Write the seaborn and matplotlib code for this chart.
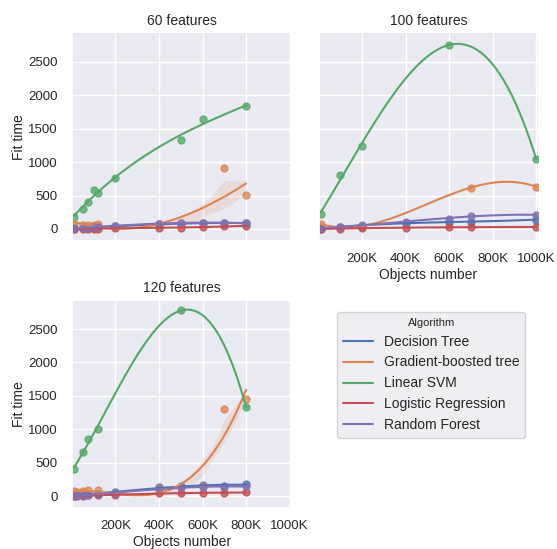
import numpy as np
import pandas as pd
import matplotlib.pyplot as plt
from matplotlib.lines import Line2D
import seaborn as sns

nan = np.nan
algorithms = ['Decision Tree', 'Gradient-boosted tree', 'Linear SVM',
              'Logistic Regression', 'Random Forest']
x_ticks = [200000, 400000, 600000, 800000, 1000000]
x_ticklabels = ['200K', '400K', '600K', '800K', '1000K']

# 60 features (objects in thousands)
x60 = [10, 50, 75, 100, 120, 200, 400, 500, 600, 700, 800]
dt60 = [5, 10, 15, 20, 25, 40, 70, 80, 90, 85, 90]
gb60 = [60, 55, 60, 65, 70, 40, 80, 90, 95, 905, 510]
svm60 = [185, 300, 400, 590, 535, 765, nan, 1325, 1650, nan, 1835]
lr60 = [0, 2, 3, 5, 5, 10, 20, 20, 25, 40, 45]
rf60 = [10, 15, 20, 25, 30, 50, 80, 90, 95, 90, 85]

# 100 features
x100 = [10, 100, 200, 400, 600, 700, 1000]
dt100 = [5, 30, 50, 90, 100, 110, 140]
gb100 = [70, 30, 40, nan, nan, 620, 630]
svm100 = [220, 810, 1240, nan, 2760, nan, 1040]
lr100 = [0, 5, 10, 20, 25, 25, 30]
rf100 = [10, 30, 60, 110, 150, 200, 210]

# 120 features
x120 = [10, 25, 50, 75, 120, 200, 400, 500, 600, 700, 800]
dt120 = [10, 15, 20, 25, 30, 60, 130, 150, 160, 150, 180]
gb120 = [70, 60, 80, 90, 85, 40, 120, 140, 150, 1310, 1450]
svm120 = [400, nan, 660, 860, 1000, nan, nan, 2780, nan, nan, 1330]
lr120 = [0, 5, 5, 10, 10, 20, 40, 45, 50, 50, 55]
rf120 = [5, 10, 15, 20, 25, 50, 110, 130, 140, 130, 150]

panels = {
    60: (x60, [dt60, gb60, svm60, lr60, rf60]),
    100: (x100, [dt100, gb100, svm100, lr100, rf100]),
    120: (x120, [dt120, gb120, svm120, lr120, rf120]),
}
# panels where the confidence band of the fit is drawn
bands = {(60, 'Gradient-boosted tree'): 40, (120, 'Gradient-boosted tree'): 40}

rows = []
for feat, (xs, series) in panels.items():
    for algo, ys in zip(algorithms, series):
        for x, y in zip(xs, ys):
            rows.append({'features': feat, 'Algorithm': algo,
                         'Objects number': x * 1000, 'Fit time': y})
df = pd.DataFrame(rows).dropna()

sns.set_theme(style='darkgrid', rc={
    'axes.titlesize': 11, 'axes.labelsize': 10,
    'xtick.labelsize': 9.5, 'ytick.labelsize': 9.5,
    'xtick.major.pad': 3, 'ytick.major.pad': 4, 'axes.labelpad': 2,
})
plt.rcParams['font.family'] = ['Liberation Sans', 'DejaVu Sans']

palette = sns.color_palette('deep', 5)


def fit(data, color, label, **kws):
    ci = bands.get((data['features'].iloc[0], label))
    sns.regplot(data=data, x='Objects number', y='Fit time', order=3,
                ci=ci, seed=0, color=color, label=label,
                scatter_kws={'s': 25}, line_kws={'lw': 1.5})


g = sns.FacetGrid(df, col='features', col_wrap=2, hue='Algorithm',
                  hue_order=algorithms, palette=palette, height=2.5)
g.map_dataframe(fit)

g.set_titles('{col_name} features')
g.set_axis_labels('Objects number', 'Fit time')
g.set(xlim=(0, 1008000), ylim=(-175, 2925), yticks=[0, 500, 1000, 1500, 2000, 2500])
for ax in g.axes.flat:
    ax.set_xticks(x_ticks)
    ax.set_xticklabels(x_ticklabels)

g.figure.set_size_inches(5.57, 5.49)
g.figure.subplots_adjust(left=0.129, right=0.966, top=0.939, bottom=0.075,
                         wspace=0.124, hspace=0.29)

handles = [Line2D([], [], color=c, lw=1.5) for c in palette]
g.figure.legend(handles, algorithms, title='Algorithm', loc='upper left',
                bbox_to_anchor=(337 / 557, 1 - 312 / 549), borderaxespad=0,
                fontsize=10, title_fontsize=8, handlelength=2.2)

plt.savefig('out.png', dpi=100)
